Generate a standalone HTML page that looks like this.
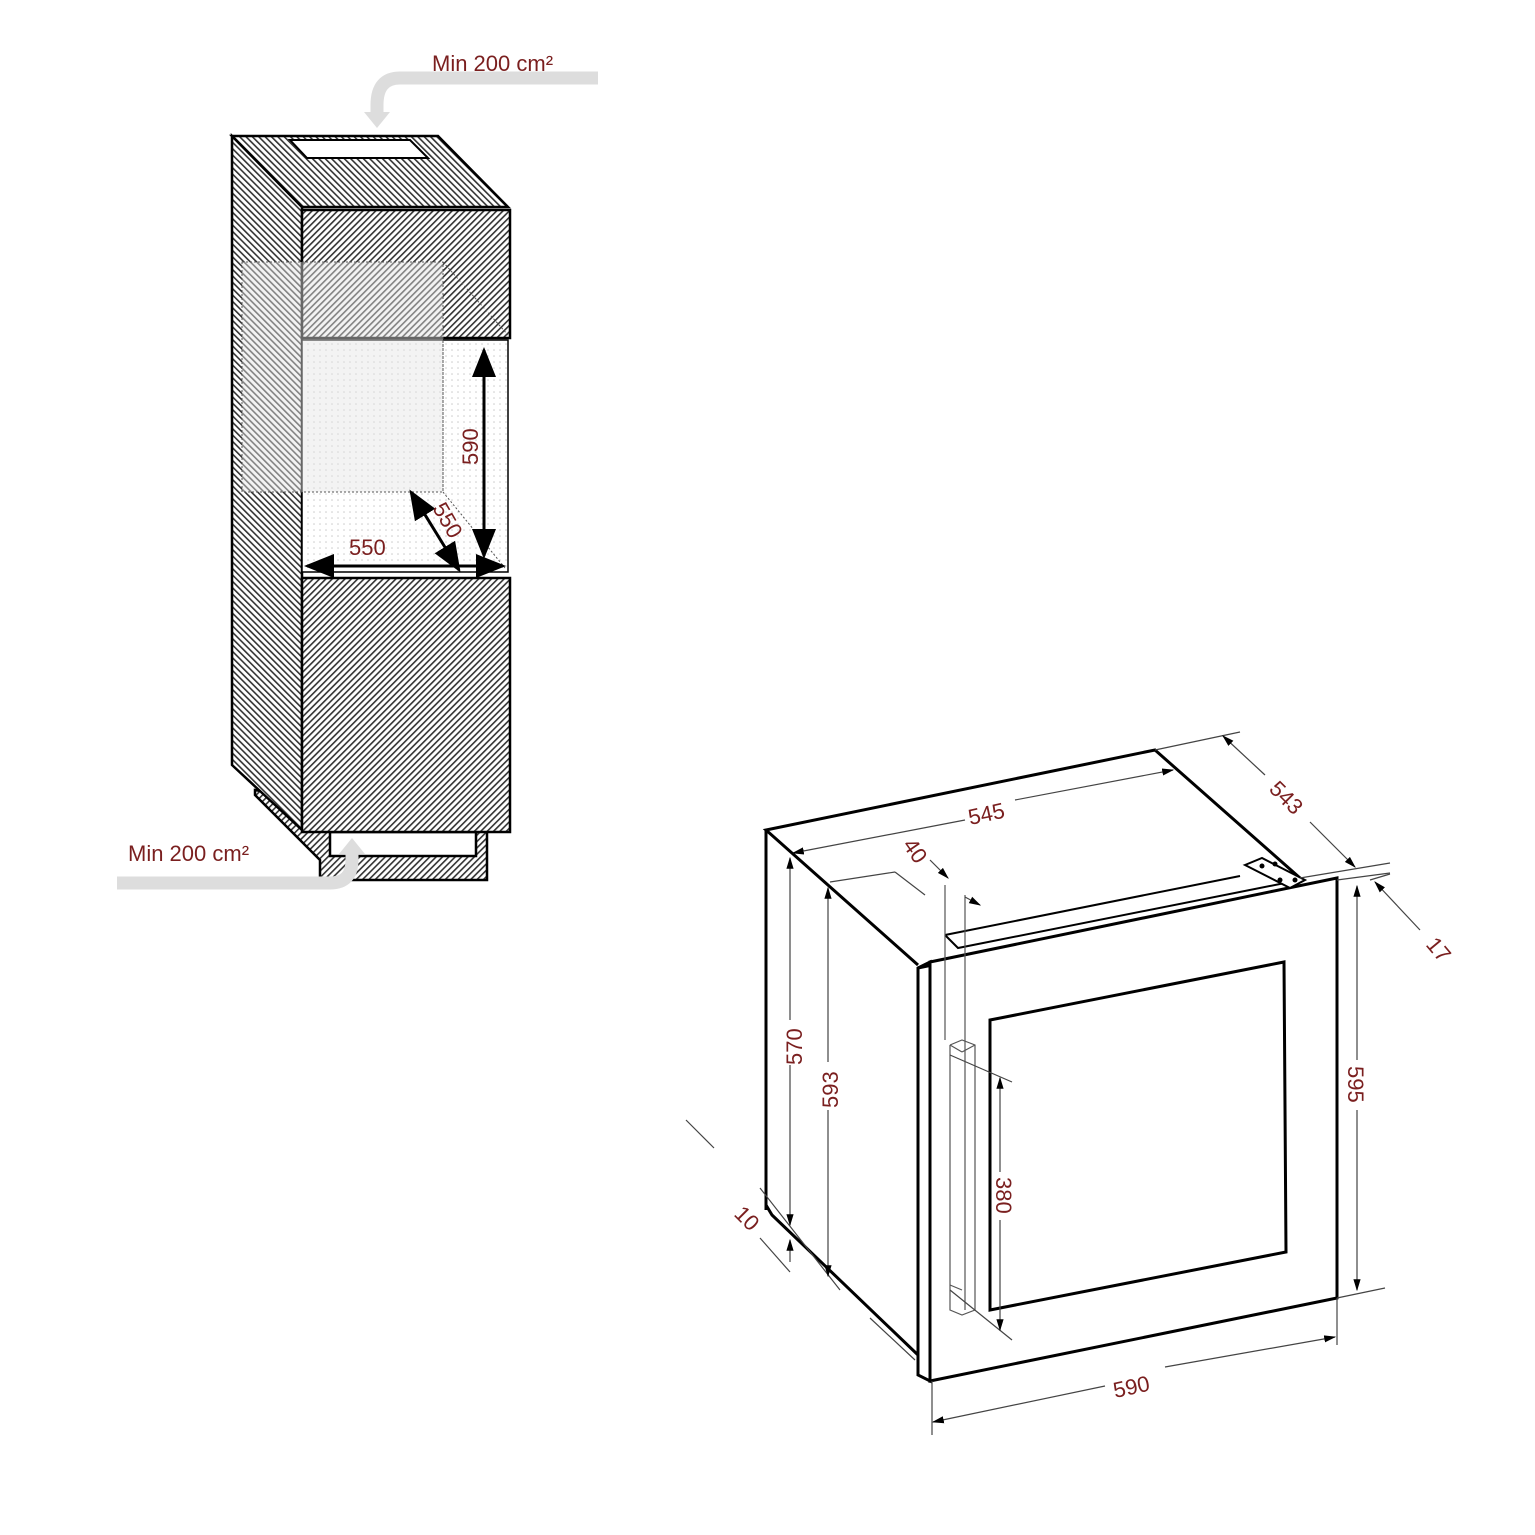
<!DOCTYPE html>
<html><head><meta charset="utf-8"><style>html,body{margin:0;padding:0;background:#fff}svg{display:block}text{font-family:"Liberation Sans",sans-serif;fill:#7a1f1f;font-size:22px}</style></head>
<body>
<svg width="1535" height="1535" viewBox="0 0 1535 1535" xmlns="http://www.w3.org/2000/svg">
<defs>
<pattern id="h1" width="4.5" height="4.5" patternUnits="userSpaceOnUse" patternTransform="rotate(45)"><rect width="4.5" height="4.5" fill="#fff"/><rect width="1.6" height="4.5" fill="#333"/></pattern>
<pattern id="h2" width="4.5" height="4.5" patternUnits="userSpaceOnUse" patternTransform="rotate(-45)"><rect width="4.5" height="4.5" fill="#fff"/><rect width="1.6" height="4.5" fill="#333"/></pattern>
<pattern id="dots" width="6" height="6" patternUnits="userSpaceOnUse"><rect width="6" height="6" fill="#fff"/><circle cx="2" cy="2" r="0.8" fill="#ccc"/></pattern>
<marker id="a" viewBox="0 0 10 10" refX="9" refY="5" markerWidth="10" markerHeight="10" orient="auto-start-reverse"><path d="M0,2 L10,5 L0,8 z" fill="#000"/></marker>
<marker id="b" viewBox="0 0 10 10" refX="9" refY="5" markerWidth="10" markerHeight="10" orient="auto-start-reverse"><path d="M0,1 L10,5 L0,9 z" fill="#000"/></marker>
</defs>

<!-- LEFT CABINET -->
<g stroke="#000" stroke-width="2.5">
<polygon points="255,795 320,860 320,880 487,880 487,832 255,790" fill="url(#h1)"/>
<rect x="330" y="832" width="146" height="24" fill="#fff"/>
<polygon points="232,136 302,207 302,830 232,765" fill="url(#h2)"/>
<polygon points="232,136 438,136 508,207 302,207" fill="url(#h2)"/>
<polygon points="290,140 410,140 428,158 307,158" fill="#fff" stroke-width="2"/>
<rect x="302" y="210" width="208" height="128" fill="url(#h1)"/>
<rect x="302" y="340" width="206" height="232" fill="url(#dots)" stroke-width="1.5"/>
<rect x="302" y="578" width="208" height="254" fill="url(#h1)"/>
</g>
<line x1="302" y1="207" x2="508" y2="207" stroke="#000" stroke-width="1" stroke-dasharray="3,2"/>
<rect x="242" y="262" width="201" height="230" fill="#e4e4e4" fill-opacity="0.45" stroke="#555" stroke-dasharray="2,2"/>
<line x1="443" y1="262" x2="508" y2="335" stroke="#555" stroke-dasharray="2,2"/>
<line x1="443" y1="492" x2="505" y2="568" stroke="#555" stroke-dasharray="2,2"/>
<line x1="443" y1="340" x2="443" y2="492" stroke="#555" stroke-dasharray="2,2"/>
<g stroke="#000" stroke-width="3">
<line x1="484" y1="350" x2="484" y2="556" marker-start="url(#b)" marker-end="url(#b)"/>
<line x1="307" y1="566" x2="503" y2="566" marker-start="url(#b)" marker-end="url(#b)"/>
<line x1="411" y1="492" x2="459" y2="570" marker-start="url(#b)" marker-end="url(#b)"/>
</g>
<text transform="translate(478,465) rotate(-90)">590</text>
<text x="349" y="555">550</text>
<text transform="translate(432,508) rotate(60)">550</text>
<path d="M598,78 H400 Q377,78 377,105 V115" fill="none" stroke="#ddd" stroke-width="13"/>
<polygon points="364,112 390,112 377,128" fill="#ddd"/>
<text x="432" y="71">Min 200 cm²</text>
<path d="M117,883 H330 Q352,883 352,860 V852" fill="none" stroke="#ddd" stroke-width="13"/>
<polygon points="339,854 365,854 352,838" fill="#ddd"/>
<text x="128" y="861">Min 200 cm²</text>

<!-- RIGHT APPLIANCE -->
<g stroke="#000" stroke-width="3" fill="none">
<polyline points="918,965 766,830 1155,750 1300,878"/>
<line x1="766" y1="830" x2="766" y2="1210"/>
<polyline points="766,1205 772,1215 918,1355"/>
<polygon points="918,968 930,962 930,1381 918,1375" fill="#fff"/>
<line x1="918" y1="968" x2="1325" y2="882"/>
<polygon points="930,962 1337,878 1337,1298 930,1381" fill="#fff"/>
<polygon points="990,1020 1284,962 1286,1252 990,1310"/>
<polyline points="945,935 1240,876" stroke-width="2"/>
<polyline points="945,935 958,948 1290,882" stroke-width="2"/>
</g>
<polygon points="1245,865 1262,858 1305,880 1290,888" fill="#fff" stroke="#000" stroke-width="2"/>
<circle cx="1262" cy="866" r="2.5"/><circle cx="1275" cy="864" r="2.5"/><circle cx="1280" cy="880" r="2.5"/><circle cx="1295" cy="880" r="2.5"/>
<g stroke="#555" stroke-width="1.2" fill="none">
<line x1="945" y1="885" x2="945" y2="1040"/>
<line x1="965" y1="895" x2="965" y2="1310"/>
<polyline points="950,1045 962,1040 975,1045 975,1310 962,1315 950,1310 950,1045"/>
<line x1="950" y1="1045" x2="962" y2="1052"/>
<line x1="962" y1="1052" x2="975" y2="1045"/>
<line x1="950" y1="1285" x2="962" y2="1290"/>
</g>
<g stroke="#444" stroke-width="1.2" fill="none">
<line x1="1155" y1="750" x2="1240" y2="732"/>
<line x1="1300" y1="878" x2="1390" y2="863"/>
<line x1="1337" y1="880" x2="1390" y2="873"/>
<line x1="1337" y1="1298" x2="1385" y2="1288"/>
<line x1="932" y1="1381" x2="932" y2="1435"/>
<line x1="1337" y1="1298" x2="1337" y2="1345"/>
<line x1="686" y1="1120" x2="714" y2="1148"/>
<line x1="760" y1="1188" x2="840" y2="1290"/>
<line x1="760" y1="1238" x2="790" y2="1272"/>
<line x1="870" y1="1318" x2="915" y2="1360"/>
<line x1="830" y1="882" x2="895" y2="872"/>
<line x1="895" y1="872" x2="925" y2="895"/>
<line x1="950" y1="1055" x2="1012" y2="1082"/>
<line x1="950" y1="1290" x2="1012" y2="1340"/>
<line x1="1370" y1="880" x2="1390" y2="874"/>
</g>
<g stroke="#444" stroke-width="1.2" marker-end="url(#a)">
<line x1="965" y1="820" x2="793" y2="853"/>
<line x1="1015" y1="800" x2="1173" y2="770"/>
<line x1="1265" y1="775" x2="1223" y2="736"/>
<line x1="1310" y1="822" x2="1355" y2="867"/>
<line x1="1420" y1="930" x2="1375" y2="882"/>
<line x1="790" y1="1020" x2="790" y2="858"/>
<line x1="790" y1="1065" x2="790" y2="1225"/>
<line x1="828" y1="1062" x2="828" y2="888"/>
<line x1="828" y1="1110" x2="828" y2="1276"/>
<line x1="1357" y1="1060" x2="1357" y2="886"/>
<line x1="1357" y1="1110" x2="1357" y2="1290"/>
<line x1="1000" y1="1172" x2="1000" y2="1078"/>
<line x1="1000" y1="1220" x2="1000" y2="1330"/>
<line x1="1105" y1="1386" x2="933" y2="1422"/>
<line x1="1165" y1="1367" x2="1335" y2="1337"/>
<line x1="930" y1="860" x2="948" y2="878"/>
<line x1="965" y1="897" x2="980" y2="905"/>
<line x1="790" y1="1262" x2="790" y2="1240"/>
</g>
<text transform="translate(970,825) rotate(-12)">545</text>
<text transform="translate(1268,790) rotate(45)">543</text>
<text transform="translate(902,845) rotate(55)">40</text>
<text transform="translate(1425,945) rotate(50)">17</text>
<text transform="translate(802,1065) rotate(-90)">570</text>
<text transform="translate(838,1108) rotate(-90)">593</text>
<text transform="translate(1348,1066) rotate(90)">595</text>
<text transform="translate(996,1177) rotate(90)">380</text>
<text transform="translate(1115,1398) rotate(-12)">590</text>
<text transform="translate(733,1215) rotate(45)">10</text>
</svg>
</body></html>
